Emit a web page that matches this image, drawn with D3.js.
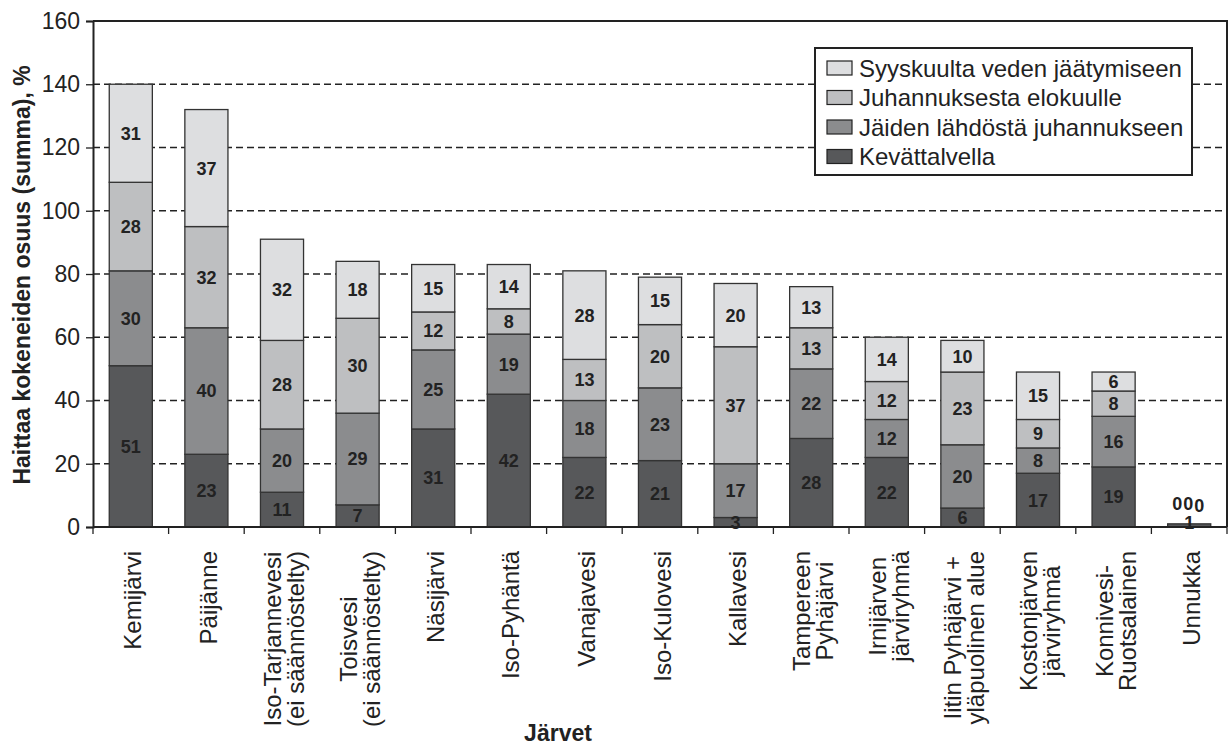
<!DOCTYPE html>
<html><head><meta charset="utf-8">
<script src="https://cdn.jsdelivr.net/npm/d3@7"></script>
<style>body{margin:0;background:#fff}svg{display:block}text{font-family:Arial,"Liberation Sans",sans-serif}</style>
</head><body><svg id="c" width="1230" height="747"></svg>
<script>
const categories = [
  ["Kemijärvi"], ["Päijänne"], ["Iso-Tarjannevesi","(ei säännöstelty)"], ["Toisvesi","(ei säännöstelty)"],
  ["Näsijärvi"], ["Iso-Pyhäntä"], ["Vanajavesi"], ["Iso-Kulovesi"], ["Kallavesi"],
  ["Tampereen","Pyhäjärvi"], ["Irnijärven","järviryhmä"], ["Iitin Pyhäjärvi +","yläpuolinen alue"],
  ["Kostonjärven","järviryhmä"], ["Konnivesi-","Ruotsalainen"], ["Unnukka"]
];
const seriesNames = ["Kevättalvella","Jäiden lähdöstä juhannukseen","Juhannuksesta elokuulle","Syyskuulta veden jäätymiseen"];
const kevattalvella = [51,23,11,7,31,42,22,21,3,28,22,6,17,19,1];
const jaidenLahdosta = [30,40,20,29,25,19,18,23,17,22,12,20,8,16,0];
const juhannuksesta = [28,32,28,30,12,8,13,20,37,13,12,23,9,8,0];
const syyskuulta = [31,37,32,18,15,14,28,15,20,13,14,10,15,6,0];
const yTicks = [0,20,40,60,80,100,120,140,160];
const colors = ["#57585a","#8b8c8e","#bebfc1","#dddee0"];

const series = [kevattalvella, jaidenLahdosta, juhannuksesta, syyskuulta];
const data = categories.map((c,i)=>{const o={i}; seriesNames.forEach((s,k)=>o[s]=series[k][i]); return o;});
const stack = d3.stack().keys(seriesNames)(data);

const svg = d3.select("#c");
const L=93, R=1227, T=21, B=527;
const x = d3.scaleBand().domain(d3.range(categories.length)).range([L,R]).paddingInner(0.43).paddingOuter(0.215);
const xb = d3.scaleBand().domain(d3.range(categories.length)).range([L,R]);
const y = d3.scaleLinear().domain([0,160]).range([B,T]);

// gridlines
svg.append("g").selectAll("line").data(yTicks.filter(t=>t>0&&t<160)).join("line")
  .attr("x1",L).attr("x2",R).attr("y1",d=>y(d)).attr("y2",d=>y(d))
  .attr("stroke","#222").attr("stroke-width",1.7).attr("stroke-dasharray","7,4");

// bars
const gs = svg.append("g").selectAll("g").data(stack).join("g").attr("fill",(d,k)=>colors[k]);
gs.selectAll("rect").data(d=>d).join("rect")
  .attr("x",(d,i)=>x(i)).attr("width",x.bandwidth())
  .attr("y",d=>y(d[1])).attr("height",d=>y(d[0])-y(d[1]))
  .attr("stroke","#333").attr("stroke-width",1.3);

// value labels
const lab = svg.append("g").attr("font-weight","bold").attr("font-size",18).attr("fill","#222").attr("text-anchor","middle");
stack.forEach((s,k)=>{
  s.forEach((d,i)=>{
    const v = series[k][i];
    let cx = x(i)+x.bandwidth()/2, cy = y((d[0]+d[1])/2);
    if (v===0) { cx += [-12,-1,10][k-1]; cy = y(d[0]) - 20 + (k===3?2:0); }
    if (i===14 && k===0) { cy = y(0) - 4; }
    lab.append("text").attr("x",cx).attr("y",cy).attr("dy","0.36em").text(v);
  });
});

// frame
svg.append("path").attr("d",`M${L},${T}H${R}V${B}`).attr("fill","none").attr("stroke","#222").attr("stroke-width",2);
// y axis
const ya = svg.append("g").attr("transform",`translate(${L},0)`).call(d3.axisLeft(y).tickValues(yTicks).tickSize(7).tickPadding(6));
ya.select(".domain").attr("stroke","#222").attr("stroke-width",2);
ya.selectAll(".tick line").attr("stroke","#222").attr("stroke-width",1.3);
ya.selectAll("text").attr("font-size",23).attr("fill","#222").attr("font-family","Arial,'Liberation Sans',sans-serif");
// x axis
svg.append("line").attr("x1",L).attr("x2",R).attr("y1",B).attr("y2",B).attr("stroke","#222").attr("stroke-width",2);
svg.append("g").selectAll("line").data(d3.range(categories.length+1)).join("line")
  .attr("x1",i=>L+i*xb.step()).attr("x2",i=>L+i*xb.step()).attr("y1",B).attr("y2",B+7)
  .attr("stroke","#222").attr("stroke-width",1.3);

// category labels
categories.forEach((lines,i)=>{
  const cx = xb(i)+xb.bandwidth()/2 + 2;
  const g = svg.append("g").attr("transform",`translate(${cx},551) rotate(-90)`);
  const ts = lines.map((t,j)=>g.append("text").attr("font-size",24).attr("fill","#222")
     .attr("text-anchor","middle").attr("dominant-baseline","central")
     .attr("y",(j-(lines.length-1)/2)*23).text(t));
  const maxL = d3.max(ts,t=>t.node().getComputedTextLength());
  ts.forEach(t=>t.attr("x",-maxL/2));
});

// axis titles
svg.append("text").attr("transform",`translate(22,275) rotate(-90)`).attr("text-anchor","middle")
  .attr("font-size",23).attr("font-weight","bold").attr("fill","#222").attr("dominant-baseline","central")
  .text("Haittaa kokeneiden osuus (summa), %");
svg.append("text").attr("x",558).attr("y",741).attr("text-anchor","middle")
  .attr("font-size",23).attr("font-weight","bold").attr("fill","#222").text("Järvet");

// legend
const lg = svg.append("g").attr("transform","translate(815,48)");
lg.append("rect").attr("width",377).attr("height",127).attr("fill","#fff").attr("stroke","#222").attr("stroke-width",2);
seriesNames.slice().reverse().forEach((s,j)=>{
  const k = 3-j;
  const yy = 20 + j*29.5;
  lg.append("rect").attr("x",12).attr("y",yy-7).attr("width",25).attr("height",14).attr("fill",colors[k]).attr("stroke","#222").attr("stroke-width",1.2);
  lg.append("text").attr("x",44).attr("y",yy).attr("dominant-baseline","central").attr("font-size",24).attr("fill","#222").text(s);
});
</script></body></html>
